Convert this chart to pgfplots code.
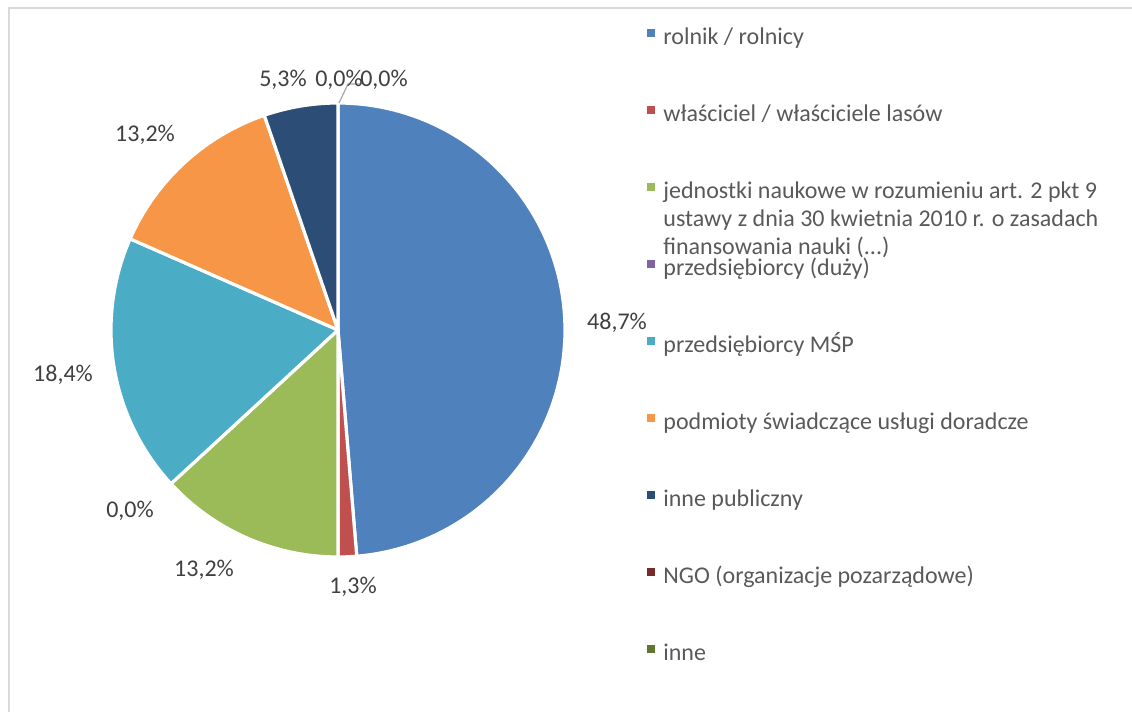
\documentclass[border=0pt]{standalone}
\usepackage{fontspec}
\setmainfont{Carlito}
\usepackage{pgfplots}
\pgfplotsset{compat=1.18}
\definecolor{cA}{HTML}{4F81BD}
\definecolor{cB}{HTML}{C0504D}
\definecolor{cC}{HTML}{9BBB59}
\definecolor{cD}{HTML}{8064A2}
\definecolor{cE}{HTML}{4BACC6}
\definecolor{cF}{HTML}{F79646}
\definecolor{cG}{HTML}{2C4D75}
\definecolor{cH}{HTML}{772C2A}
\definecolor{cI}{HTML}{5F7530}
\definecolor{labtxt}{HTML}{404040}
\definecolor{legtxt}{HTML}{595959}
\definecolor{frame}{HTML}{D9D9D9}
\DeclareRobustCommand\legjed{\smash{\parbox[t]{240pt}{\raggedright jednostki naukowe w rozumieniu art. 2 pkt 9\\ustawy z dnia 30 kwietnia 2010 r. o zasadach\\finansowania nauki (...)}}}
% counts: 37, 1, 10, 0, 14, 10, 4, 0, 0 (total 76)
% shares: 48.7, 1.3, 13.2, 0.0, 18.4, 13.2, 5.3, 0.0, 0.0 %
\newcommand\pieslice[3]{%
  \addplot[fill=#3, draw=white, line width=1.6pt, line join=round,
    domain=#1:#2, samples=100, variable=\t]
    ({338+227*cos(\t)},{382+227*sin(\t)}) -- (axis cs:338,382) -- cycle;}
\begin{document}
\begin{tikzpicture}
\begin{axis}[
  x=0.5pt, y=0.5pt,
  xmin=0, xmax=1132, ymin=0, ymax=712,
  hide axis, clip=false,
  legend cell align=left,
  legend image code/.code={\fill[#1, draw=none] (0pt,0.5pt) rectangle (4pt,4.5pt);},
  legend style={at={(axis cs:647,686)}, anchor=north west, draw=none, fill=none,
    inner sep=0pt, column sep=4pt, row sep=26.5pt,
    font=\fontsize{12}{14}\selectfont, text=legtxt,
    nodes={inner sep=0pt, text height=9pt, text depth=3pt}},
]
\draw[frame, line width=1pt] (axis cs:9,-30) -- (axis cs:9,704) -- (axis cs:1180,704);
% slices clockwise from 12 o'clock
\pieslice{-85.263}{90}{cA}
\addlegendentry{rolnik / rolnicy}
\pieslice{-90}{-85.263}{cB}
\addlegendentry{właściciel / właściciele lasów}
\pieslice{-137.368}{-90}{cC}
\addlegendentry{\legjed}
\addlegendimage{fill=cD}
\addlegendentry{przedsiębiorcy (duży)}
\pieslice{-203.684}{-137.368}{cE}
\addlegendentry{przedsiębiorcy MŚP}
\pieslice{-251.053}{-203.684}{cF}
\addlegendentry{podmioty świadczące usługi doradcze}
\pieslice{-270}{-251.053}{cG}
\addlegendentry{inne publiczny}
\addlegendimage{fill=cH}
\addlegendentry{NGO (organizacje pozarządowe)}
\addlegendimage{fill=cI}
\addlegendentry{inne}
% leader line
\draw[color=black!35, line width=0.6pt] (axis cs:339,609) -- (axis cs:348,628) -- (axis cs:360,628);
% data labels
\begin{scope}[every node/.style={anchor=base, text=labtxt, font=\fontsize{12}{14}\selectfont, inner sep=0pt}]
\node at (axis cs:617,382) {48,7\%};
\node at (axis cs:353,118) {1,3\%};
\node at (axis cs:204,135) {13,2\%};
\node at (axis cs:130,194) {0,0\%};
\node at (axis cs:63,330) {18,4\%};
\node at (axis cs:145,570) {13,2\%};
\node at (axis cs:283,625) {5,3\%};
\node at (axis cs:339,625) {0,0\%};
\node at (axis cs:384,625) {0,0\%};
\end{scope}
\end{axis}
\pgfresetboundingbox
\path[use as bounding box] (0,0) rectangle (566pt,356pt);
\end{tikzpicture}
\end{document}
